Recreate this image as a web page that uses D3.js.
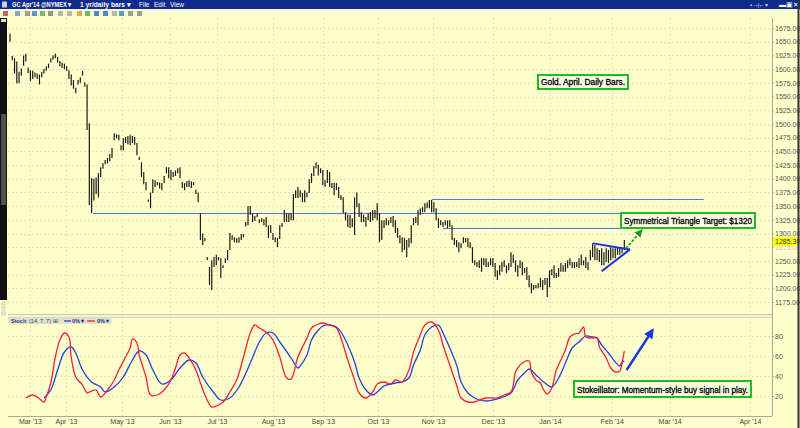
<!DOCTYPE html>
<html>
<head>
<meta charset="UTF-8">
<title>GC Apr'14 daily bars</title>
<script src="https://d3js.org/d3.v7.min.js"></script>
<style>
  body { margin: 0; background: #ffffcc; overflow: hidden; }
  svg { display: block; font-family: 'Liberation Sans', Arial, sans-serif; }
</style>
</head>
<body>
<svg width="800" height="428"></svg>
<script>
// daily bars, one entry per trading bar (high / low)
const barHigh = [1665,1624,1620,1614,1595,1601,1625,1628,1603,1598,1597,1594,1592,1590,1595,1600,1605,1610,1620,1625,
  1628,1622,1615,1612,1610,1605,1598,1590,1580,1566,1580,1585,1597,1576,1572,1501,1401,1400,1402,1410,
  1421,1428,1434,1438,1445,1456,1483,1481,1480,1461,1474,1476,1478,1480,1478,1476,1465,1440,1430,1412,
  1394,1362,1375,1399,1397,1394,1393,1392,1405,1421,1421,1416,1412,1415,1419,1421,1394,1392,1396,1397,
  1395,1394,1380,1375,1337,1300,1292,1257,1239,1251,1257,1261,1257,1255,1242,1255,1270,1301,1297,1293,
  1292,1293,1299,1299,1321,1350,1350,1337,1332,1337,1326,1328,1326,1330,1315,1315,1301,1293,1292,1315,
  1319,1343,1337,1337,1337,1372,1379,1385,1379,1374,1379,1375,1399,1410,1423,1430,1425,1419,1416,1397,
  1416,1412,1392,1392,1392,1385,1370,1366,1339,1334,1334,1328,1366,1375,1355,1339,1334,1330,1337,1339,
  1343,1343,1355,1337,1324,1324,1328,1324,1330,1332,1324,1310,1297,1293,1292,1288,1292,1315,1328,1330,
  1343,1346,1348,1355,1357,1361,1361,1357,1346,1328,1324,1321,1324,1324,1324,1315,1292,1288,1284,1282,
  1293,1292,1292,1284,1275,1251,1248,1251,1255,1255,1255,1248,1255,1255,1246,1233,1242,1248,1251,1242,
  1246,1266,1261,1251,1242,1251,1248,1237,1239,1224,1209,1206,1206,1209,1219,1215,1219,1219,1233,1235,
  1242,1228,1237,1246,1242,1246,1251,1255,1248,1248,1248,1255,1261,1251,1257,1248,1270,1282,1279,1273,
  1270,1273,1266,1273,1270,1275,1273,1273,1275,1273,1275,1288];
const barLow = [1650,1616,1592,1574,1574,1588,1606,1614,1593,1578,1582,1585,1582,1572,1585,1592,1597,1602,1612,1617,
  1620,1612,1605,1602,1600,1597,1582,1570,1564,1556,1572,1575,1588,1568,1489,1352,1337,1360,1372,1366,
  1403,1418,1427,1428,1432,1438,1470,1474,1470,1452,1452,1465,1463,1461,1465,1462,1443,1434,1403,1390,
  1379,1358,1346,1374,1385,1388,1382,1379,1392,1410,1401,1397,1403,1405,1410,1401,1383,1379,1385,1385,
  1383,1388,1372,1357,1288,1279,1286,1251,1206,1197,1239,1242,1251,1219,1237,1246,1251,1270,1288,1284,
  1283,1283,1288,1293,1313,1315,1334,1321,1323,1330,1319,1321,1315,1312,1292,1301,1288,1284,1275,1290,
  1312,1321,1321,1321,1324,1324,1365,1365,1366,1357,1357,1366,1374,1392,1405,1419,1406,1410,1388,1385,
  1392,1385,1383,1370,1379,1365,1361,1337,1324,1312,1310,1312,1297,1348,1330,1321,1321,1313,1324,1321,
  1324,1328,1324,1284,1288,1310,1315,1315,1319,1312,1301,1292,1282,1266,1270,1257,1275,1282,1315,1319,
  1315,1334,1339,1339,1346,1346,1339,1339,1324,1310,1315,1312,1315,1310,1312,1288,1279,1275,1266,1273,
  1282,1284,1275,1273,1246,1242,1239,1237,1230,1242,1239,1239,1242,1239,1221,1215,1224,1230,1239,1228,
  1233,1239,1246,1230,1221,1237,1224,1228,1215,1202,1191,1197,1200,1200,1202,1197,1206,1184,1202,1224,
  1219,1219,1221,1230,1230,1230,1237,1242,1237,1237,1239,1237,1242,1242,1237,1233,1251,1257,1251,1251,
  1248,1242,1242,1248,1246,1251,1255,1255,1261,1261,1264,1270];
const lastPrice = 1285.30;

// stochastics (14,7,7): [bar, value]
const stochK = [[7,18],[10,21],[12,19],[15,14],[16,19],[18,33],[20,59],[22,76],[24,83],[26,79],[27,59],[29,39],
  [32,31],[34,23],[35,24],[38,26],[40,19],[43,26],[46,36],[48,46],[51,59],[53,68],[54,77],[56,73],[57,61],
  [60,39],[62,21],[65,21],[68,26],[71,36],[73,48],[75,61],[77,63],[79,58],[82,46],[84,33],[86,21],[89,9],
  [91,10],[94,14],[97,24],[100,36],[103,59],[106,83],[108,91],[110,88],[113,84],[116,76],[119,59],[122,38],
  [124,37],[127,59],[131,78],[133,88],[136,92],[138,93],[141,91],[144,88],[146,78],[149,56],[152,36],[154,23],
  [157,18],[160,24],[162,32],[165,34],[168,32],[170,36],[173,34],[176,46],[178,64],[181,81],[183,91],[186,94],
  [189,86],[191,71],[194,51],[197,31],[199,18],[202,14],[205,14],[207,16],[210,18],[213,18],[215,18],[218,21],
  [221,24],[223,44],[224,48],[226,53],[229,55],[230,44],[232,36],[234,33],[235,28],[237,22],[239,28],[241,46],
  [243,56],[245,66],[247,79],[249,82],[251,83],[253,89],[254,79],[257,78],[259,78],[260,69],[263,58],[265,48],
  [267,44],[269,45],[270,53],[271,65]];
const stochD = [[15,18],[18,26],[21,46],[24,64],[27,69],[29,63],[32,46],[36,34],[40,29],[42,24],[46,29],[50,39],
  [54,56],[57,65],[60,61],[63,46],[67,32],[71,36],[75,48],[79,56],[82,53],[85,39],[90,23],[93,16],[97,18],
  [101,29],[106,53],[110,74],[113,83],[116,83],[119,74],[124,58],[127,48],[128,50],[131,61],[133,76],[136,86],
  [138,90],[141,91],[144,89],[146,84],[149,71],[152,54],[154,38],[157,26],[160,21],[162,24],[165,30],[168,32],
  [170,33],[173,34],[176,38],[178,51],[181,66],[183,81],[186,89],[189,91],[191,83],[194,68],[197,51],[199,34],
  [202,23],[205,18],[207,16],[210,15],[213,16],[215,17],[221,23],[224,36],[227,43],[229,47],[232,41],[236,33],
  [239,29],[242,38],[245,53],[248,68],[251,74],[254,80],[257,79],[259,78],[261,71],[264,63],[267,54],[269,50],
  [270,54],[271,55]];

const priceTicks = d3.range(1175, 1676, 25);
const stochTicks = [20, 40, 60, 80];
const monthLabels = ["Mar '13","Apr '13","May '13","Jun '13","Jul '13","Aug '13","Sep '13","Oct '13",
  "Nov '13","Dec '13","Jan '14","Feb '14","Mar '14","Apr '14"];
const monthBars = [8.8, 24.7, 49.4, 70.6, 91.3, 116, 138, 162.3, 186.6, 213, 238.2, 265.5, 291, 326.4];

// drawn levels: price, from bar, to bar
const levels = [[1363, 186, 306], [1337, 36.6, 269], [1310, 191, 269]];
const triUpper = [[257.2, 1282], [273.5, 1271]];
const triLower = [[261, 1231], [273.5, 1271]];
const targetArrow = [[271.7, 1272.5], [278.6, 1306]];
const stochArrow = [[272, 46], [283.5, 86]];

const svg = d3.select("svg");
const W = 800, H = 428;
const left = 8, right = 772;

const x = d3.scaleLinear().domain([0, 335.7]).range([10, 771]);
const y = d3.scaleLinear().domain([1175, 1675]).range([302, 28]);
const ys = d3.scaleLinear().domain([0, 100]).range([416, 316]);

svg.append("rect").attr("width", W).attr("height", H).attr("fill", "#ffffcc");

// grids
const grid = svg.append("g").attr("stroke", "#e4e4b4").attr("stroke-width", 1).attr("stroke-dasharray", "2,2");
grid.selectAll("line.pg").data(priceTicks).join("line")
  .attr("x1", left).attr("x2", right).attr("y1", d => Math.round(y(d)) + 0.5).attr("y2", d => Math.round(y(d)) + 0.5);
grid.selectAll("line.sg").data(stochTicks).join("line").attr("class", "sg")
  .attr("x1", left).attr("x2", right).attr("y1", d => Math.round(ys(d)) + 0.5).attr("y2", d => Math.round(ys(d)) + 0.5);
grid.selectAll("line.vg1").data(monthBars).join("line").attr("class", "vg1")
  .attr("x1", d => Math.round(x(d)) + 0.5).attr("x2", d => Math.round(x(d)) + 0.5).attr("y1", 18).attr("y2", 314);
grid.selectAll("line.vg2").data(monthBars).join("line").attr("class", "vg2")
  .attr("x1", d => Math.round(x(d)) + 0.5).attr("x2", d => Math.round(x(d)) + 0.5).attr("y1", 318).attr("y2", 416);

// panel separator
svg.append("rect").attr("x", left).attr("y", 314).attr("width", right - left).attr("height", 3).attr("fill", "#f4f4dc");
svg.append("line").attr("x1", left).attr("x2", right).attr("y1", 314.5).attr("y2", 314.5).attr("stroke", "#c8c8b0");
svg.append("line").attr("x1", left).attr("x2", right).attr("y1", 317.5).attr("y2", 317.5).attr("stroke", "#d8d8c0");

// horizontal level lines
svg.append("g").selectAll("line").data(levels).join("line")
  .attr("x1", d => x(d[1])).attr("x2", d => x(d[2]))
  .attr("y1", d => Math.round(y(d[0])) + 0.5).attr("y2", d => Math.round(y(d[0])) + 0.5)
  .attr("stroke", "#4d7be6").attr("stroke-width", 1.2);

// bars
svg.append("g").attr("stroke", "#1a1a1a").attr("stroke-width", 1.2)
  .selectAll("line").data(barHigh).join("line")
  .attr("x1", (d, i) => x(i)).attr("x2", (d, i) => x(i))
  .attr("y1", d => y(d)).attr("y2", (d, i) => Math.max(y(barLow[i]), y(d) + 1.5));

// triangle
const pl = d3.line().x(d => x(d[0])).y(d => y(d[1]));
[triUpper, triLower].forEach(t => svg.append("path").attr("d", pl(t))
  .attr("stroke", "#1830e8").attr("stroke-width", 2).attr("fill", "none"));

// arrow markers
const defs = svg.append("defs");
function marker(id, color, s) {
  defs.append("marker").attr("id", id).attr("viewBox", "0 -5 10 10").attr("refX", 8).attr("refY", 0)
    .attr("markerWidth", s).attr("markerHeight", s).attr("markerUnits", "userSpaceOnUse").attr("orient", "auto")
    .append("path").attr("d", "M0,-5L10,0L0,5Z").attr("fill", color);
}
marker("garrow", "#1d9a1d", 8);
marker("barrow", "#1838e0", 10);

svg.append("path").attr("d", pl(targetArrow)).attr("stroke", "#1d9a1d").attr("stroke-width", 1.6)
  .attr("stroke-dasharray", "3,1.5").attr("fill", "none").attr("marker-end", "url(#garrow)");

// stochastics
const sl = d3.line().x(d => x(d[0])).y(d => ys(d[1])).curve(d3.curveCatmullRom);
svg.append("path").attr("d", sl(stochD)).attr("stroke", "#2040e8").attr("stroke-width", 1.3).attr("fill", "none");
svg.append("path").attr("d", sl(stochK)).attr("stroke", "#f0203c").attr("stroke-width", 1.3).attr("fill", "none");
svg.append("path").attr("d", sl.curve(d3.curveLinear)(stochArrow)).attr("stroke", "#1838e0").attr("stroke-width", 2.4)
  .attr("fill", "none").attr("marker-end", "url(#barrow)");

// right axes
svg.append("line").attr("x1", right + 0.5).attr("x2", right + 0.5).attr("y1", 18).attr("y2", 416).attr("stroke", "#a8a8a0");
const pa = svg.append("g").attr("transform", `translate(${right},0)`)
  .call(d3.axisRight(y).tickValues(priceTicks).tickFormat(d3.format(".2f")).tickSize(2).tickPadding(1));
const sa = svg.append("g").attr("transform", `translate(${right},0)`)
  .call(d3.axisRight(ys).tickValues(stochTicks).tickFormat(d3.format("d")).tickSize(2).tickPadding(1));
[pa, sa].forEach(a => {
  a.select(".domain").remove();
  a.selectAll("line").attr("stroke", "#a8a8a0");
  a.selectAll("text").attr("fill", "#555").style("font-size", "7px").style("font-family", "'Liberation Sans', Arial");
});
// the price tag covers the 1275 label, as in the original
pa.selectAll(".tick").filter(d => d === 1275).select("text").attr("opacity", 0.35);

// last price tag
svg.append("rect").attr("x", right + 1).attr("y", y(lastPrice) - 4.5).attr("width", 24).attr("height", 9).attr("fill", "#ffff00");
svg.append("text").attr("x", right + 3).attr("y", y(lastPrice) + 2.5).attr("font-size", 7).attr("fill", "#333")
  .text(lastPrice.toFixed(2));

// bottom axis
svg.append("line").attr("x1", left).attr("x2", right).attr("y1", 416.5).attr("y2", 416.5).attr("stroke", "#a8a8a0");
const ba = svg.append("g").attr("transform", "translate(0,416)")
  .call(d3.axisBottom(x).tickValues(monthBars).tickFormat((d, i) => monthLabels[i]).tickSize(0).tickPadding(3));
ba.select(".domain").remove();
ba.selectAll("text").attr("fill", "#444").style("font-size", "7px").style("font-family", "'Liberation Sans', Arial");

// annotation boxes
function box(x0, y0, w, h, label, fs, tw) {
  svg.append("rect").attr("x", x0).attr("y", y0).attr("width", w).attr("height", h)
    .attr("fill", "#ffffe6").attr("stroke", "#22bb22").attr("stroke-width", 2);
  svg.append("text").attr("x", x0 + 3).attr("y", y0 + h - 4).attr("font-size", fs).attr("fill", "#000")
    .attr("stroke", "#000").attr("stroke-width", 0.3)
    .attr("textLength", tw).attr("lengthAdjust", "spacingAndGlyphs").text(label);
}
box(538, 75, 90, 14, "Gold. April.  Daily Bars.", 8.4, 84);
box(621, 213, 134, 15, "Symmetrical Triangle Target: $1320", 8.4, 128);
box(574, 381, 177, 16, "Stokeillator: Momentum-style buy signal in play.", 8.4, 171);

// stoch legend
const lg = svg.append("g").attr("font-size", 5.5).attr("font-weight", "bold");
lg.append("rect").attr("x", 8).attr("y", 318).attr("width", 104).attr("height", 6).attr("fill", "#e2e2c4");
lg.append("text").attr("x", 11).attr("y", 323).attr("fill", "#1a3a9a").text("Stoch");
lg.append("text").attr("x", 29).attr("y", 323).attr("fill", "#1a3a9a").attr("font-weight", "normal").text("(14, 7, 7)  ⊞");
lg.append("line").attr("x1", 64).attr("x2", 71).attr("y1", 321).attr("y2", 321).attr("stroke", "#2040e8").attr("stroke-width", 1.3);
lg.append("text").attr("x", 72).attr("y", 323).attr("fill", "#1a3a9a").text("0% ▾");
lg.append("line").attr("x1", 87).attr("x2", 95).attr("y1", 321).attr("y2", 321).attr("stroke", "#f0203c").attr("stroke-width", 1.3);
lg.append("text").attr("x", 97).attr("y", 323).attr("fill", "#1a3a9a").text("0% ▾");

// window chrome: title bar, toolbar, scroll bar, border
svg.append("rect").attr("width", W).attr("height", 9).attr("fill", "#0d2a8c");
const tb = svg.append("g").attr("fill", "#fff").attr("font-size", 6.5);
tb.append("rect").attr("x", 2).attr("y", 1.5).attr("width", 5).attr("height", 6).attr("fill", "#c8d0e8");
tb.append("text").attr("x", 12).attr("y", 7).attr("font-weight", "bold").attr("textLength", 60)
  .attr("lengthAdjust", "spacingAndGlyphs").text("GC Apr'14 @NYMEX ▾");
tb.append("text").attr("x", 80).attr("y", 7).attr("font-weight", "bold").attr("textLength", 51)
  .attr("lengthAdjust", "spacingAndGlyphs").text("1 yr/daily bars ▾");
tb.append("text").attr("x", 139).attr("y", 7).text("File");
tb.append("text").attr("x", 154).attr("y", 7).text("Edit");
tb.append("text").attr("x", 170).attr("y", 7).text("View");
tb.append("text").attr("x", 750).attr("y", 7).attr("font-size", 6).attr("fill", "#c8d0f0").text("▪ -‹|›- ▾");
tb.append("text").attr("x", 779).attr("y", 7).attr("font-size", 7).text("▬▣✕");

svg.append("rect").attr("x", 0).attr("y", 9).attr("width", W).attr("height", 8).attr("fill", "#fbfbd0");
const icons = ["#c03030","#6a8ac0","#808080","#3070c0","#50a050","#707070","#a0a0a0","#a0a0a0","#d09030","#40a040",
  "#2060c0","#2060c0","#a0a0a0","#2080c0","#808080","#808080"];
const iconX = [3, 15, 25, 32, 40, 48, 58, 67, 77, 85, 94, 103, 112, 119, 128, 137];
svg.append("g").selectAll("rect").data(icons).join("rect")
  .attr("x", (d, i) => iconX[i]).attr("y", 11).attr("width", 5).attr("height", 5).attr("fill", d => d).attr("opacity", 0.75);

svg.append("rect").attr("x", 0).attr("y", 18).attr("width", 7).attr("height", 282).attr("fill", "#111");
svg.append("rect").attr("x", 1).attr("y", 114).attr("width", 5).attr("height", 91).attr("fill", "#505050");
svg.append("rect").attr("x", 1).attr("y", 19).attr("width", 5).attr("height", 3).attr("fill", "#ddd");
[302, 307, 312].forEach(v => svg.append("rect").attr("x", 2).attr("y", v).attr("width", 3).attr("height", 3)
  .attr("fill", "none").attr("stroke", "#aaa").attr("stroke-width", 0.6));
svg.append("line").attr("x1", 798.5).attr("x2", 798.5).attr("y1", 0).attr("y2", H).attr("stroke", "#333").attr("stroke-width", 2);
</script>
</body>
</html>
